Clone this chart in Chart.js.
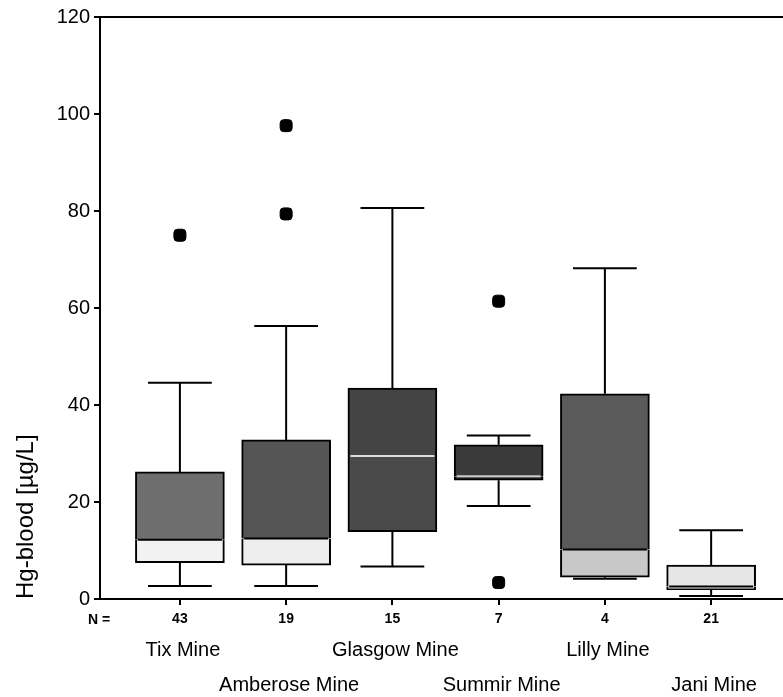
<!DOCTYPE html>
<html>
<head>
<meta charset="utf-8">
<script src="https://cdn.jsdelivr.net/npm/chart.js@4.4.1/dist/chart.umd.min.js"></script>
<style>
  html, body { margin: 0; padding: 0; background: #fff; overflow: hidden; }
  #wrap { width: 783px; height: 697px; position: relative; }
  canvas { display: block; }
</style>
</head>
<body>
<div id="wrap"><canvas id="box"></canvas></div>
<script>
// data
var mines = ["Tix Mine", "Amberose Mine", "Glasgow Mine", "Summir Mine", "Lilly Mine", "Jani Mine"];
var nCounts = [43, 19, 15, 7, 4, 21];
var whiskerLow = [2.7, 2.7, 6.7, 19.2, 4.2, 0.6];
var q1 = [7.5, 7.0, 13.9, 24.5, 4.5, 1.9];
var medians = [12.2, 12.5, 29.5, 25.3, 10.2, 2.6];
var q3 = [26.2, 32.8, 43.5, 31.8, 42.3, 7.0];
var whiskerHigh = [44.6, 56.3, 80.6, 33.7, 68.2, 14.2];
var outliers = [[75], [97.6, 79.4], [], [61.4, 3.4], [], []];
var yTicks = [0, 20, 40, 60, 80, 100, 120];

// fills (scan looks speckled grey)
var lowerFill = ['#f2f2f2', '#eeeeee', '#4a4a4a', '#3a3a3a', '#c8c8c8', '#f4f4f4'];
var upperFill = ['#6e6e6e', '#555555', '#444444', '#3a3a3a', '#5a5a5a', '#e6e6e6'];
var medianColor = ['#000', '#000', '#dddddd', '#cccccc', '#000', '#000'];

var pos = mines.map(function (m, i) { return i + 1; });

var lowerPart = pos.map(function (x, i) { return { x: x, y: [q1[i], medians[i]] }; });
var upperPart = pos.map(function (x, i) { return { x: x, y: [medians[i], q3[i]] }; });
var outlierPts = [];
outliers.forEach(function (list, i) {
    list.forEach(function (v) { outlierPts.push({ x: i + 1, y: v }); });
});

var boxPlugin = {
    id: 'boxExtras',
    afterDatasetsDraw: function (chart) {
        var ctx = chart.ctx, xs = chart.scales.x, ys = chart.scales.y;
        var area = chart.chartArea;
        ctx.save();
        ctx.strokeStyle = '#000';
        ctx.lineWidth = 2;
        // whiskers
        pos.forEach(function (x, i) {
            var cx = xs.getPixelForValue(x);
            var capL = xs.getPixelForValue(x - 0.3), capR = xs.getPixelForValue(x + 0.3);
            var yMin = ys.getPixelForValue(whiskerLow[i]), yQ1 = ys.getPixelForValue(q1[i]);
            var yQ3 = ys.getPixelForValue(q3[i]), yMax = ys.getPixelForValue(whiskerHigh[i]);
            ctx.beginPath();
            ctx.moveTo(cx, yQ3); ctx.lineTo(cx, yMax);
            ctx.moveTo(capL, yMax); ctx.lineTo(capR, yMax);
            ctx.moveTo(cx, yQ1); ctx.lineTo(cx, yMin);
            ctx.moveTo(capL, yMin); ctx.lineTo(capR, yMin);
            ctx.stroke();
        });
        // medians
        var half = 44;
        pos.forEach(function (x, i) {
            var cx = xs.getPixelForValue(x);
            var ym = ys.getPixelForValue(medians[i]);
            ctx.strokeStyle = medianColor[i];
            ctx.beginPath();
            ctx.moveTo(cx - half + 2, ym); ctx.lineTo(cx + half - 2, ym);
            ctx.stroke();
        });
        // top frame line, and both frame lines run on to the page edge
        var yb = Math.round(xs.top);
        ctx.strokeStyle = '#000';
        ctx.beginPath();
        ctx.moveTo(area.left, Math.round(area.top)); ctx.lineTo(chart.width, Math.round(area.top));
        ctx.moveTo(area.right - 2, yb); ctx.lineTo(chart.width, yb);
        ctx.stroke();
        ctx.restore();
    },
    afterDraw: function (chart) {
        var ctx = chart.ctx, xs = chart.scales.x;
        ctx.save();
        ctx.fillStyle = '#000';
        ctx.textAlign = 'center';
        ctx.textBaseline = 'middle';
        ctx.font = '20px "Liberation Sans", Arial, sans-serif';
        mines.forEach(function (m, i) {
            var cx = xs.getPixelForValue(i + 1) + 3;
            ctx.fillText(m, cx, i % 2 === 0 ? 650 : 685);
        });
        ctx.font = 'bold 14px "Liberation Sans", Arial, sans-serif';
        ctx.textAlign = 'left';
        ctx.fillText('N =', 88, 620);
        ctx.restore();
    }
};

new Chart(document.getElementById('box'), {
    type: 'bar',
    data: {
        datasets: [
            {
                type: 'scatter',
                data: outlierPts,
                pointStyle: 'rectRounded',
                pointRadius: 7,
                backgroundColor: '#000',
                borderColor: '#000',
                order: 0
            },
            {
                data: lowerPart,
                backgroundColor: lowerFill,
                borderColor: '#000',
                borderWidth: 2,
                borderSkipped: 'top',
                grouped: false,
                barThickness: 89,
                order: 2
            },
            {
                data: upperPart,
                backgroundColor: upperFill,
                borderColor: '#000',
                borderWidth: 2,
                borderSkipped: 'bottom',
                grouped: false,
                barThickness: 89,
                order: 1
            }
        ]
    },
    options: {
        responsive: true,
        maintainAspectRatio: false,
        animation: false,
        layout: { padding: { top: 17, right: 0, left: 0, bottom: 0 } },
        plugins: { legend: { display: false }, tooltip: { enabled: false } },
        scales: {
            x: {
                type: 'linear',
                offset: false,
                min: 0.248,
                max: 6.601,
                afterFit: function (s) { s.height = 98; },
                afterBuildTicks: function (s) {
                    s.ticks = pos.map(function (p) { return { value: p }; });
                },
                ticks: {
                    color: '#000',
                    padding: 6,
                    font: { family: '"Liberation Sans", Arial, sans-serif', size: 14, weight: 'bold' },
                    callback: function (v) { return String(nCounts[v - 1]); }
                },
                grid: { offset: false, drawOnChartArea: false, drawTicks: true, tickLength: 6, color: '#000', lineWidth: 2 },
                border: { display: true, color: '#000', width: 2 }
            },
            y: {
                min: 0,
                max: 120,
                afterFit: function (s) { s.width = 100; },
                afterBuildTicks: function (s) {
                    s.ticks = yTicks.map(function (t) { return { value: t }; });
                },
                ticks: {
                    color: '#000',
                    padding: 4,
                    font: { family: '"Liberation Sans", Arial, sans-serif', size: 20 }
                },
                grid: { drawOnChartArea: false, drawTicks: true, tickLength: 6, color: '#000', lineWidth: 2 },
                border: { display: true, color: '#000', width: 2 },
                title: {
                    display: true,
                    text: 'Hg-blood [µg/L]',
                    align: 'start',
                    color: '#000',
                    padding: { top: 12, bottom: 0 },
                    font: { family: '"Liberation Sans", Arial, sans-serif', size: 24 }
                }
            }
        }
    },
    plugins: [boxPlugin]
});
</script>
</body>
</html>
